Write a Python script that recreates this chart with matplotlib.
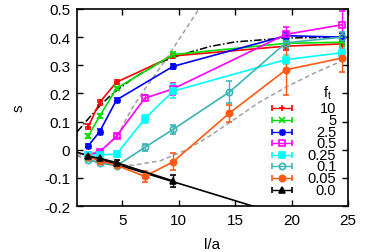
"""Order parameter s against l/a for several f_t values (gnuplot-style reproduction)."""

import matplotlib

matplotlib.use("Agg")

import matplotlib.pyplot as plt

plt.rcParams["font.family"] = ["Liberation Sans", "DejaVu Sans"]
plt.rcParams["axes.unicode_minus"] = False
plt.rcParams["mathtext.fontset"] = "custom"
plt.rcParams["mathtext.rm"] = "Liberation Sans"

# data series: x positions, s values, error bars per f_t
x_10 = [2, 3, 4.5, 9.5, 19.5, 24.5]
s_10 = [0.082, 0.168, 0.240, 0.333, 0.368, 0.376]
e_10 = [0.008, 0.008, 0.006, 0.008, 0.015, 0.015]

x_5 = [2, 3, 4.5, 9.5, 19.5, 24.5]
s_5 = [0.049, 0.119, 0.218, 0.338, 0.378, 0.382]
e_5 = [0.008, 0.008, 0.006, 0.008, 0.015, 0.015]

x_2p5 = [2, 3, 4.5, 9.5, 19.5, 24.5]
s_2p5 = [0.014, 0.064, 0.177, 0.296, 0.405, 0.400]
e_2p5 = [0.006, 0.008, 0.008, 0.010, 0.015, 0.015]

x_0p5 = [2, 3, 4.5, 7, 9.5, 19.5, 24.5]
s_0p5 = [-0.020, -0.008, 0.048, 0.183, 0.216, 0.410, 0.444]
e_0p5 = [0.005, 0.005, 0.008, 0.010, 0.020, 0.025, 0.050]

x_0p25 = [2, 3, 4.5, 7, 9.5, 19.5, 24.5]
s_0p25 = [-0.020, -0.018, -0.016, 0.110, 0.208, 0.320, 0.345]
e_0p25 = [0.005, 0.005, 0.010, 0.015, 0.025, 0.015, 0.015]

x_0p1 = [2, 3, 4.5, 7, 9.5, 14.5, 19.5, 24.5]
s_0p1 = [-0.036, -0.047, -0.057, 0.008, 0.072, 0.205, 0.380, 0.400]
e_0p1 = [0.005, 0.005, 0.008, 0.012, 0.015, 0.040, 0.020, 0.020]

x_0p05 = [2, 3, 4.5, 7, 9.5, 14.5, 19.5, 24.5]
s_0p05 = [-0.025, -0.040, -0.055, -0.095, -0.043, 0.130, 0.284, 0.326]
e_0p05 = [0.005, 0.005, 0.008, 0.020, 0.030, 0.030, 0.090, 0.050]

x_0 = [2, 3, 4.5, 9.5]
s_0 = [-0.024, -0.030, -0.046, -0.111]
e_0 = [0.005, 0.005, 0.008, 0.022]

# guide curves
fit_x = [1, 25]
fit_s = [-0.009, -0.304]
dashdot_x = [1, 2, 3, 3.9, 4.5, 6, 8.35, 10, 12.8, 15, 19.5, 25]
dashdot_s = [0.063, 0.110, 0.155, 0.190, 0.210, 0.255, 0.310, 0.335, 0.367, 0.383, 0.397, 0.400]
steep_x = [1, 2, 3, 4, 4.8, 5.84, 7, 8.8, 10, 11.9, 12.5]
steep_s = [-0.020, -0.015, -0.005, 0.025, 0.066, 0.145, 0.215, 0.316, 0.390, 0.506, 0.540]
low_x = [1, 2, 3, 4.5, 6, 8.4, 10.7, 12.8, 14.5, 17, 19.5, 22, 25]
low_s = [-0.022, -0.035, -0.045, -0.055, -0.055, -0.039, 0.000, 0.050, 0.096, 0.165, 0.222, 0.272, 0.325]

labels = ["10", "5", "2.5", "0.5", "0.25", "0.1", "0.05", "0.0"]
colors = ["#ff0000", "#00e000", "#0000ff", "#ff00ff", "#00ffff", "#3cb4b4", "#ff5a14", "#000000"]
markers = ["+", "x", (8, 2, 0), "s", "s", "o", "o", "^"]
hollow = [False, False, False, True, False, True, False, False]
series = [(x_10, s_10, e_10), (x_5, s_5, e_5), (x_2p5, s_2p5, e_2p5), (x_0p5, s_0p5, e_0p5),
          (x_0p25, s_0p25, e_0p25), (x_0p1, s_0p1, e_0p1), (x_0p05, s_0p05, e_0p05), (x_0, s_0, e_0)]

xticks = [5, 10, 15, 20, 25]
yticks = [-0.2, -0.1, 0, 0.1, 0.2, 0.3, 0.4, 0.5]
ytick_labels = ["-0.2", "-0.1", "0", "0.1", "0.2", "0.3", "0.4", "0.5"]

fig = plt.figure(figsize=(3.74, 2.53), dpi=100)
ax = fig.add_axes([0.2059, 0.1818, 0.7246, 0.7787])

gray = "#a0a0a0"
ax.plot(steep_x, steep_s, color=gray, lw=1.1, dashes=(3, 2))
ax.plot(low_x, low_s, color=gray, lw=1.1, dashes=(3, 2))
ax.plot(dashdot_x, dashdot_s, color="black", lw=1.1, dashes=(5, 1.5, 1, 1.5))
ax.plot(fit_x, fit_s, color="black", lw=1.2)

for (xs, ys, es), col, mk, hol in zip(series, colors, markers, hollow):
    ms = 4.5 if mk in ("s", "o", "^") else 5
    ax.errorbar(xs, ys, yerr=es, color=col, marker=mk, ms=ms, mew=1.2,
                mfc="none" if hol else col, lw=1.2, elinewidth=1.0, capsize=2.5, capthick=1.0)

# gnuplot-style key: sample with horizontal error bar, right-aligned label
key_top = (207 - 109.3) / 197
key_step = 11.6 / 197
for i, (lab, col, mk, hol) in enumerate(zip(labels, colors, markers, hollow)):
    ky = key_top - i * key_step
    ms = 4.5 if mk in ("s", "o", "^") else 5
    ax.errorbar([0.756], [ky], xerr=[0.037], color=col, marker=mk, ms=ms, mew=1.2,
                mfc="none" if hol else col, lw=0, elinewidth=1.0, capsize=2.5, capthick=1.0,
                transform=ax.transAxes, clip_on=False)
    ax.text(0.957, ky, lab, transform=ax.transAxes, ha="right", va="center", fontsize=10.5)
ax.text(0.925, (207 - 92.7) / 197, r"f$_{\rm t}$", transform=ax.transAxes, ha="center", va="center", fontsize=10.5)

ax.set_xlim(1, 25)
ax.set_ylim(-0.2, 0.5)
ax.set_xticks(xticks)
ax.set_yticks(yticks)
ax.set_yticklabels(ytick_labels)
ax.tick_params(direction="in", top=True, right=True, length=4, width=1, labelsize=11, pad=5)
for sp in ax.spines.values():
    sp.set_linewidth(1.2)
ax.set_xlabel("l/a", fontsize=11, labelpad=7)
ax.set_ylabel("s", fontsize=11, labelpad=13)

fig.savefig("out.png", dpi=100)
